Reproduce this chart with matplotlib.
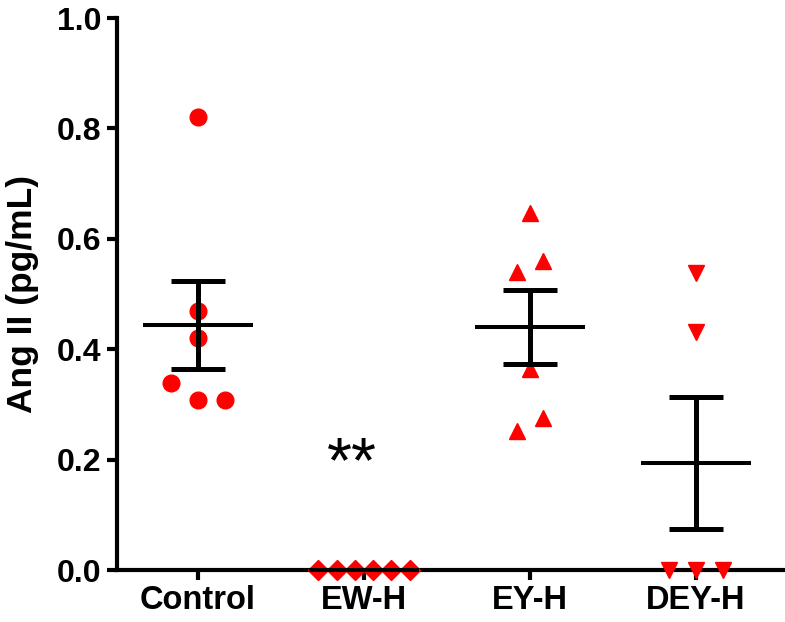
import numpy as np
import matplotlib
matplotlib.use('Agg')
import matplotlib.pyplot as plt

plt.rcParams['font.family'] = ['Liberation Sans', 'DejaVu Sans']
plt.rcParams['font.weight'] = 'bold'

groups = ['Control', 'EW-H', 'EY-H', 'DEY-H']
markers = ['o', 'D', '^', 'v']
marker_sizes = [12, 10.5, 11.5, 11.5]

# values (pg/mL)
control = [0.821, 0.469, 0.420, 0.339, 0.308, 0.308]
ew_h = [0.0, 0.0, 0.0, 0.0, 0.0, 0.0]
ey_h = [0.647, 0.560, 0.540, 0.364, 0.275, 0.252]
dey_h = [0.538, 0.431, 0.0, 0.0, 0.0]

# horizontal scatter of points within a group (category units)
control_dx = [0.0, 0.0, 0.0, -0.16, 0.0, 0.16]
ew_h_dx = [-0.275, -0.165, -0.055, 0.055, 0.165, 0.275]
ey_h_dx = [0.0, 0.08, -0.08, 0.0, 0.08, -0.08]
dey_h_dx = [0.0, 0.0, -0.16, 0.0, 0.16]

values = [control, ew_h, ey_h, dey_h]
offsets = [control_dx, ew_h_dx, ey_h_dx, dey_h_dx]

yticks = [0.0, 0.2, 0.4, 0.6, 0.8, 1.0]


def main():
	fig = plt.figure(figsize=(7.85, 6.22), dpi=100)
	ax = fig.add_axes([117 / 785, 1 - 570 / 622, 1 - 117 / 785, 552 / 622])

	for i, (vals, dx) in enumerate(zip(values, offsets)):
		x = i + np.array(dx)
		ax.plot(x, vals, linestyle='none', marker=markers[i], ms=marker_sizes[i],
			color='#ff0000', mec='#ff0000', clip_on=False, zorder=3)

	for i, vals in enumerate(values):
		v = np.array(vals)
		mean = v.mean()
		sem = v.std(ddof=1) / np.sqrt(len(v))
		ax.hlines(mean, i - 0.33, i + 0.33, color='black', lw=2.9, zorder=4, clip_on=False)
		if sem > 0:
			ax.errorbar(i, mean, yerr=sem, fmt='none', ecolor='black', elinewidth=3.6,
				capsize=19.5, capthick=3.6, zorder=4)

	ax.text(0.925, 0.16, '**', ha='center', va='baseline', fontsize=46, fontweight='normal')

	ax.set_xlim(-0.488, 3.536)
	ax.set_ylim(0, 1.0)
	ax.set_xticks(range(len(groups)))
	ax.set_xticklabels(groups, fontsize=23.5, fontweight='bold')
	ax.set_yticks(yticks)
	ax.set_yticklabels(['%.1f' % t for t in yticks], fontsize=23, fontweight='bold')
	ax.set_ylabel('Ang II (pg/mL)', fontsize=25.5, fontweight='bold', labelpad=13)

	for s in ['top', 'right']:
		ax.spines[s].set_visible(False)
	for s in ['left', 'bottom']:
		ax.spines[s].set_linewidth(3)
	ax.tick_params(axis='both', direction='out', length=7, width=3, pad=4)

	fig.savefig('out.png', dpi=100)


if __name__ == '__main__':
	main()
